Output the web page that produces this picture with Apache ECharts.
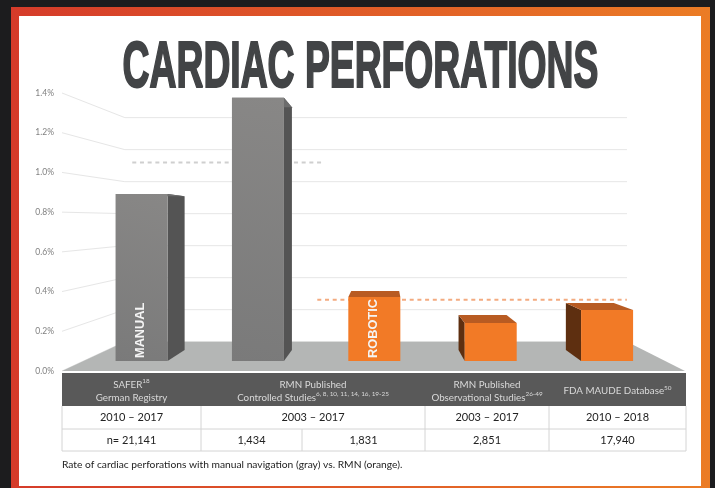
<!DOCTYPE html>
<html style="height: 100%">
<head>
<meta charset="utf-8"/>
<script src="https://cdn.jsdelivr.net/npm/echarts@6/dist/echarts.min.js"></script>
<style>
body { margin: 0; height: 100%; background: #1c1c1e; overflow: hidden; }
#container { width: 715px; height: 488px; }
</style>
</head>
<body>
<div id="container"></div>
<script>
// values
var categories = ['SAFER', 'RMN controlled A', 'RMN controlled B', 'RMN observational', 'FDA MAUDE'];
var rates = [0.90, 1.42, 0.345, 0.205, 0.275];
var isRobotic = [false, false, true, true, true];
var barLabels = ['MANUAL', '', 'ROBOTIC', '', ''];
var yTicks = [0, 0.2, 0.4, 0.6, 0.8, 1.0, 1.2, 1.4];
var averages = [1.07, 0.33];
var averageFrom = [-0.08, 1.51];
var averageTo = [1.56, 4.17];

var titleText = 'CARDIAC PERFORATIONS';
var captionText = 'Rate of cardiac perforations with manual navigation (gray) vs. RMN (orange).';
var headerRow = [
	'{n|SAFER}{s|18}\n{n|German Registry}',
	'{n|RMN Published}\n{n|Controlled Studies}{s|6, 8, 10, 11, 14, 16, 19-25}',
	'{n|RMN Published}\n{n|Observational Studies}{s|26-49}',
	'{n|FDA MAUDE Database}{s|50}'
];
var periodRow = ['2010 – 2017', '2003 – 2017', '2003 – 2017', '2010 – 2018'];
var countRow = ['n= 21,141', '1,434', '1,831', '2,851', '17,940'];

// perspective of the fake 3d picture
var VX = 386, VY = 220;
var BAR_FRONT = 0.934, BAR_DEPTH = 0.922, WALL = 0.806;
var BAR_RATIO = 0.447;

function project(x, y, s){
	return [VX + (x - VX) * s, VY + (y - VY) * s];
}

function poly(points, color){
	return {type: 'polygon', shape: {points: points}, style: {fill: color}};
}

function renderBar(params, api){
	var i = params.dataIndex;
	var top = api.coord([i, rates[i]]);
	var base = api.coord([i, 0]);
	var half = api.size([1, 0])[0] * BAR_RATIO / 2;
	var robotic = isRobotic[i];
	var x0 = top[0] - half, x1 = top[0] + half;
	var s = BAR_FRONT, b = BAR_FRONT * BAR_DEPTH;
	var ftl = project(x0, top[1], s), ftr = project(x1, top[1], s);
	var fbl = project(x0, base[1], s), fbr = project(x1, base[1], s);
	var btl = project(x0, top[1], b), btr = project(x1, top[1], b);
	var bbl = project(x0, base[1], b), bbr = project(x1, base[1], b);
	var sideColor = robotic ? '#5e2f10' : '#545454';
	var children = [];
	if(btr[0] > ftr[0]) {
		children.push(poly([ftr, btr, bbr, fbr], sideColor));
	}
	if(btl[0] < ftl[0]) {
		children.push(poly([ftl, btl, bbl, fbl], sideColor));
	}
	children.push(poly([ftl, btl, btr, ftr], robotic ? '#b85b22' : '#6c6c6c'));
	children.push({
		type: 'rect',
		shape: {x: ftl[0], y: ftl[1], width: ftr[0] - ftl[0], height: fbl[1] - ftl[1]},
		style: {fill: robotic ? '#f27a26' : new echarts.graphic.LinearGradient(0, 1, 1, 0, [
			{offset: 0, color: '#7a7a7a'}, {offset: 1, color: '#888786'}
		])}
	});
	if(barLabels[i]) {
		children.push({
			type: 'text',
			x: (ftl[0] + ftr[0]) / 2 - 1,
			y: fbl[1] - 3,
			rotation: Math.PI / 2,
			style: {
				text: barLabels[i], fill: '#f4f4f4', align: 'left', verticalAlign: 'middle',
				font: 'bold 12.8px "Liberation Sans"'
			}
		});
	}
	return {type: 'group', children: children};
}

function renderGridLine(params, api){
	var y = api.coord([0, yTicks[params.dataIndex]])[1];
	var c = params.coordSys;
	var back0 = project(c.x, y, WALL);
	var back1 = project(c.x + c.width, y, WALL);
	return {
		type: 'polyline',
		shape: {points: [[c.x, y], back0, back1]},
		style: {stroke: '#e6e6e6', lineWidth: 1, fill: null}
	};
}

function renderFloor(params, api){
	var c = params.coordSys;
	var y = api.coord([0, 0])[1];
	return poly([
		[c.x, y], project(c.x, y, WALL), project(c.x + c.width, y, WALL), [c.x + c.width, y]
	], '#b4b6b5');
}

// dashed average lines, from and to are positions in category units
function renderAverage(params, api){
	var i = params.dataIndex;
	var a = api.coord([0, averages[i]]);
	var band = api.size([1, 0])[0];
	var p0 = project(a[0] + averageFrom[i] * band, a[1], BAR_FRONT);
	var p1 = project(a[0] + averageTo[i] * band, a[1], BAR_FRONT);
	return {
		type: 'line',
		shape: {x1: p0[0], y1: p0[1], x2: p1[0], y2: p1[1]},
		style: {stroke: i ? '#f3ab80' : '#cfcfcf', lineWidth: 2, lineDash: [4, 3.7]}
	};
}

// table and frame
var TX = [62, 201, 302, 425, 549, 686];
var TY = [373, 406, 429, 451];
var graphics = [];

function addText(text, x, y, size, color, align){
	graphics.push({
		type: 'text', x: x, y: y, z: 5,
		style: {
			text: text, fill: color, align: align || 'center', verticalAlign: 'middle',
			font: size + 'px Lato'
		}
	});
}
function addLine(x1, y1, x2, y2){
	graphics.push({
		type: 'line', z: 5, shape: {x1: x1, y1: y1, x2: x2, y2: y2},
		style: {stroke: '#d4d4d4', lineWidth: 1}
	});
}

graphics.push({
	type: 'rect', z: -2, shape: {x: 11, y: 7, width: 699, height: 481},
	style: {fill: new echarts.graphic.LinearGradient(0, 0, 1, 0, [
		{offset: 0, color: '#d53b2a'}, {offset: 1, color: '#eb7c25'}
	])}
});
graphics.push({
	type: 'rect', z: -1, shape: {x: 19, y: 16, width: 682, height: 470},
	style: {fill: '#ffffff'}
});

// no condensed font here, so squeeze a bold one to the width of the title
var titleFont = 'bold 63px "Liberation Sans"';
var titleWidth = echarts.format.getTextRect ? echarts.format.getTextRect(titleText, titleFont).width : 860;
graphics.push({
	type: 'text', x: 360.5, y: 69.5, z: 5, scaleX: 477 / (titleWidth + 2), scaleY: 1.02,
	style: {
		text: titleText, fill: '#424446', stroke: '#424446', lineWidth: 2,
		align: 'center', verticalAlign: 'middle', font: titleFont
	}
});

graphics.push({
	type: 'rect', z: 4, shape: {x: TX[0], y: TY[0], width: TX[5] - TX[0], height: TY[1] - TY[0]},
	style: {fill: '#595959'}
});
var headerCols = [[TX[0], TX[1]], [TX[1], TX[3]], [TX[3], TX[4]], [TX[4], TX[5]]];
for(var i = 0; i < headerCols.length; i++) {
	var mid = (headerCols[i][0] + headerCols[i][1]) / 2;
	graphics.push({
		type: 'text', x: mid, y: (TY[0] + TY[1]) / 2 + 1.5, z: 5,
		style: {
			text: headerRow[i], align: 'center', verticalAlign: 'middle',
			rich: {
				n: {fontFamily: 'Lato', fontSize: 9.8, fill: '#d9d9d9', lineHeight: 13},
				s: {fontFamily: 'Lato', fontSize: 6.4, fill: '#d9d9d9', lineHeight: 13, verticalAlign: 'top'}
			}
		}
	});
	addText(periodRow[i], mid, (TY[1] + TY[2]) / 2, 11, '#222222');
	addLine(headerCols[i][0], TY[1], headerCols[i][0], TY[3]);
}
addLine(TX[5], TY[1], TX[5], TY[3]);
addLine(TX[2], TY[2], TX[2], TY[3]);
addLine(TX[0], TY[2], TX[5], TY[2]);
addLine(TX[0], TY[3], TX[5], TY[3]);
var countCols = [[TX[0], TX[1]], [TX[1], TX[2]], [TX[2], TX[3]], [TX[3], TX[4]], [TX[4], TX[5]]];
for(var j = 0; j < countCols.length; j++) {
	addText(countRow[j], (countCols[j][0] + countCols[j][1]) / 2, (TY[2] + TY[3]) / 2, 11, '#222222');
}
addText(captionText, TX[0], 465, 10.25, '#222222', 'left');

var myChart = echarts.init(document.getElementById('container'), null, {renderer: 'canvas'});
var option = {
	backgroundColor: 'transparent',
	animation: false,
	grid: {left: 62, width: 623, top: 93, height: 278},
	xAxis: {type: 'category', data: categories, show: false},
	yAxis: {
		type: 'value', min: 0, max: 1.4, interval: 0.2,
		axisLine: {show: false}, axisTick: {show: false}, splitLine: {show: false},
		axisLabel: {
			color: '#808080', fontFamily: 'Lato', fontSize: 8.5, margin: 8,
			formatter: function(v){ return v.toFixed(1) + '%'; }
		}
	},
	graphic: graphics,
	series: [
		{type: 'custom', z: 1, silent: true, clip: false, renderItem: renderGridLine, data: yTicks},
		{type: 'custom', z: 2, silent: true, clip: false, renderItem: renderFloor, data: [0]},
		{type: 'custom', z: 3, silent: true, clip: false, renderItem: renderAverage, data: averages},
		{type: 'custom', z: 4, silent: true, clip: false, renderItem: renderBar, data: rates}
	]
};
myChart.setOption(option);
</script>
</body>
</html>
